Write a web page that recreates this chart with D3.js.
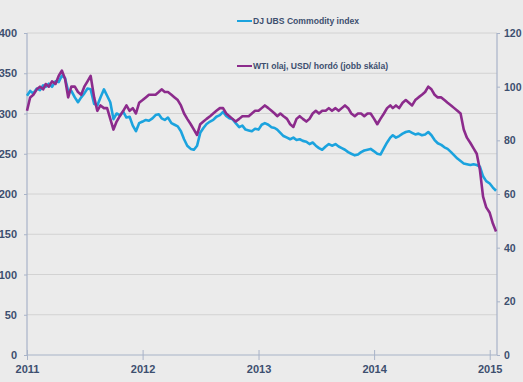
<!DOCTYPE html>
<html>
<head>
<meta charset="utf-8">
<script src="https://cdn.jsdelivr.net/npm/d3@7"></script>
<style>
html,body{margin:0;padding:0;background:#ebebeb;}
svg{display:block;}
text{font-family:"Liberation Sans",Arial,sans-serif;font-weight:bold;fill:#3d4f6f;}
</style>
</head>
<body>
<svg id="chart" width="523" height="382"></svg>
<script>
// Months (categories); each month has three readings (1st, 11th, 21st)
const months = ["2011-01","2011-02","2011-03","2011-04","2011-05","2011-06","2011-07","2011-08","2011-09","2011-10","2011-11","2011-12",
"2012-01","2012-02","2012-03","2012-04","2012-05","2012-06","2012-07","2012-08","2012-09","2012-10","2012-11","2012-12",
"2013-01","2013-02","2013-03","2013-04","2013-05","2013-06","2013-07","2013-08","2013-09","2013-10","2013-11","2013-12",
"2014-01","2014-02","2014-03","2014-04","2014-05","2014-06","2014-07","2014-08","2014-09","2014-10","2014-11","2014-12",
"2015-01"];
const days = ["01","11","21"];

// DJ UBS Commodity index (left scale)
const djubs = [
322,328,325, 331,329,335, 333,337,333, 340,339,347, 344,328,328, 320,314,320,
325,331,330, 312,310,320, 330,322,314, 293,300,298, 302,295,296, 285,278,288,
290,292,291, 294,298,299, 294,292,295, 288,286,284, 278,268,260, 256,255,260,
276,282,287, 290,292,296, 298,302,297, 294,293,288, 283,285,280, 279,278,281,
280,286,288, 286,283,282, 280,276,272, 270,268,270, 267,268,266, 265,262,264,
260,257,255, 259,262,260, 262,259,257, 255,252,250, 248,249,252, 254,255,256,
253,250,249, 257,264,270, 273,270,272, 275,277,278, 276,274,275, 273,274,277,
273,267,263, 261,258,256, 252,248,244, 241,238,237, 236,237,236, 234,222,216,
213,208,204];

// WTI oil, USD/barrel (right scale)
const wti = [
91,96,97, 99,100,99, 101,100,102, 101,104,106, 103,96,100, 100,98,97,
100,102,104, 96,91,93, 92,92,88, 84,87,89, 91,93,91, 92,90,94,
95,96,97, 97,97,98, 99,98,98, 97,96,95, 93,90,88, 86,84,82,
86,87,88, 89,90,91, 92,92,90, 89,88,87, 88,89,89, 89,90,91,
91,92,93, 92,91,90, 89,90,89, 88,86,85, 88,89,88, 87,88,90,
91,90,91, 91,92,91, 92,91,92, 93,92,90, 89,90,90, 89,90,90,
88,86,88, 90,92,93, 92,93,92, 94,95,94, 93,95,96, 97,98,100,
99,97,96, 96,95,94, 93,92,91, 90,84,81, 79,77,75, 69,59,55,
53,49,46];

const leftTicks = [0,50,100,150,200,250,300,350,400];
const rightTicks = [0,20,40,60,80,100,120];
const yearTicks = ["2011","2012","2013","2014","2015"];
const seriesNames = ["DJ UBS Commodity index","WTI olaj, USD/ hordó (jobb skála)"];

const parse = d3.timeParse("%Y-%m-%d");
const dates = [];
months.forEach(m => days.forEach(d => dates.push(parse(m + "-" + d))));

const svg = d3.select("#chart");
const L = 27, R = 497, T = 33, B = 355;

const x = d3.scaleTime().domain([parse("2011-01-01"), parse("2015-01-24")]).range([L, R]);
const yL = d3.scaleLinear().domain([0, 400]).range([B, T]);
const yR = d3.scaleLinear().domain([0, 120]).range([B, T]);

// grid
svg.append("g").selectAll("line").data(leftTicks.filter(v => v > 0)).join("line")
  .attr("x1", L).attr("x2", R).attr("y1", d => yL(d)).attr("y2", d => yL(d))
  .attr("stroke", "#d2d2d2").attr("stroke-width", 1);

const axisColor = "#a8b3c8";
// left axis
const gl = svg.append("g").attr("transform", `translate(${L},0)`)
  .call(d3.axisLeft(yL).tickValues(leftTicks).tickSize(3).tickPadding(7));
// right axis
const gr = svg.append("g").attr("transform", `translate(${R},0)`)
  .call(d3.axisRight(yR).tickValues(rightTicks).tickSize(3).tickPadding(4));
// bottom axis
const gb = svg.append("g").attr("transform", `translate(0,${B})`)
  .call(d3.axisBottom(x).tickValues(yearTicks.map(y => parse(y + "-01-01"))).tickFormat(d3.timeFormat("%Y")).tickSize(5).tickPadding(5));
gb.selectAll(".tick line").attr("y1", -5);

[gl, gr, gb].forEach(g => {
  g.select(".domain").attr("stroke", axisColor).attr("stroke-width", 1.2);
  g.selectAll(".tick line").attr("stroke", axisColor);
  g.selectAll("text").attr("font-size", 11).attr("font-family", "'Liberation Sans', Arial, sans-serif")
    .attr("font-weight", "bold").attr("fill", "#3d4f6f");
});
gr.selectAll("text").attr("font-size", 10.5);
gl.select(".domain").attr("d", `M0,${B}V${T}`);
gr.select(".domain").attr("d", `M0,${B}V${T}`);
gb.select(".domain").attr("d", `M${L},0H${R}`);

const colors = ["#1ba3de", "#8c2b8c"];

const lineL = d3.line().x((d, i) => x(dates[i])).y(d => yL(d));
const lineR = d3.line().x((d, i) => x(dates[i])).y(d => yR(d));

svg.append("path").datum(djubs).attr("d", lineL).attr("fill", "none")
  .attr("stroke", colors[0]).attr("stroke-width", 2.6).attr("stroke-linejoin", "round");
svg.append("path").datum(wti).attr("d", lineR).attr("fill", "none")
  .attr("stroke", colors[1]).attr("stroke-width", 2.6).attr("stroke-linejoin", "round");

// legend
const legY = [21, 66];
seriesNames.forEach((n, i) => {
  svg.append("line").attr("x1", 237).attr("x2", 252).attr("y1", legY[i]).attr("y2", legY[i])
    .attr("stroke", colors[i]).attr("stroke-width", 2);
  svg.append("text").attr("x", 253).attr("y", legY[i]).attr("dy", "0.35em")
    .attr("font-size", 8.6).text(n);
});
</script>
</body>
</html>
